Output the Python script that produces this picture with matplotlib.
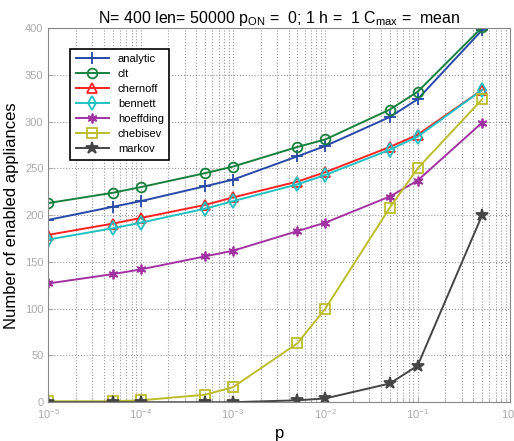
import numpy as np
import matplotlib
matplotlib.use('Agg')
import matplotlib.pyplot as plt

plt.rcParams['font.family'] = ['Liberation Sans', 'DejaVu Sans']
plt.rcParams['mathtext.fontset'] = 'custom'
plt.rcParams['mathtext.rm'] = 'Liberation Sans'

# data
p = [1e-5, 5e-5, 1e-4, 5e-4, 1e-3, 5e-3, 1e-2, 5e-2, 1e-1, 5e-1]
analytic  = [195, 209, 215, 231, 238, 263, 274, 305, 324, 398]
clt       = [213, 224, 230, 245, 252, 273, 281, 313, 332, 401]
chernoff  = [179, 191, 197, 211, 219, 236, 246, 273, 286, 334]
bennett   = [174, 186, 192, 207, 215, 233, 243, 270, 284, 334]
hoeffding = [127, 137, 142, 156, 162, 183, 192, 220, 237, 299]
chebisev  = [1, 1, 2, 8, 16, 63, 100, 208, 250, 324]
markov    = [0, 0, 0, 0, 0, 2, 4, 20, 39, 200]

series = [
    ('analytic',  analytic,  '#2748a8', '+', 'none', 8),
    ('clt',       clt,       '#16803c', 'o', 'none', 7),
    ('chernoff',  chernoff,  '#ff2222', '^', 'none', 7),
    ('bennett',   bennett,   '#1fc2c2', 'd', 'none', 7),
    ('hoeffding', hoeffding, '#a232a2', (6, 2, 0), 'none', 7),
    ('chebisev',  chebisev,  '#bdbd2c', 's', 'none', 7),
    ('markov',    markov,    '#454545', '*', '#454545', 9),
]

fig = plt.figure(figsize=(5.14, 4.41), dpi=100)
ax = fig.add_axes([0.094, 0.088, 0.898, 0.848])

for name, vals, col, mk, fc, ms in series:
    ax.plot(p, vals, color=col, marker=mk, markerfacecolor=fc, markeredgecolor=col,
            markersize=ms, markeredgewidth=1.3, linewidth=1.4, label=name)

ax.set_xscale('log')
ax.set_xlim(1e-5, 1)
ax.set_ylim(0, 400)
ax.set_yticks(np.arange(0, 401, 50))

ax.grid(True, which='major', color='#999999', linestyle=':', linewidth=0.8)
ax.grid(True, which='minor', axis='x', color='#999999', linestyle=':', linewidth=0.8)
ax.tick_params(which='both', direction='in', colors='#aaaaaa', labelsize=8, labelcolor='#aaaaaa')
for s in ax.spines.values():
    s.set_color('#888888')

ax.set_xlabel('p', fontsize=12)
ax.set_ylabel('Number of enabled appliances', fontsize=12, labelpad=4)
ax.set_title(r'N= 400 len= 50000 p$_{\mathrm{ON}}$ =  0; 1 h =  1 C$_{\mathrm{max}}$ =  mean',
             fontsize=11.5, pad=3)

leg = ax.legend(loc='upper left', bbox_to_anchor=(0.035, 0.96), fontsize=8,
                fancybox=False, framealpha=1, borderpad=0.5, handlelength=3,
                labelspacing=0.45)
leg.get_frame().set_edgecolor('black')
leg.get_frame().set_linewidth(1.2)

fig.savefig('out.png', dpi=100)
